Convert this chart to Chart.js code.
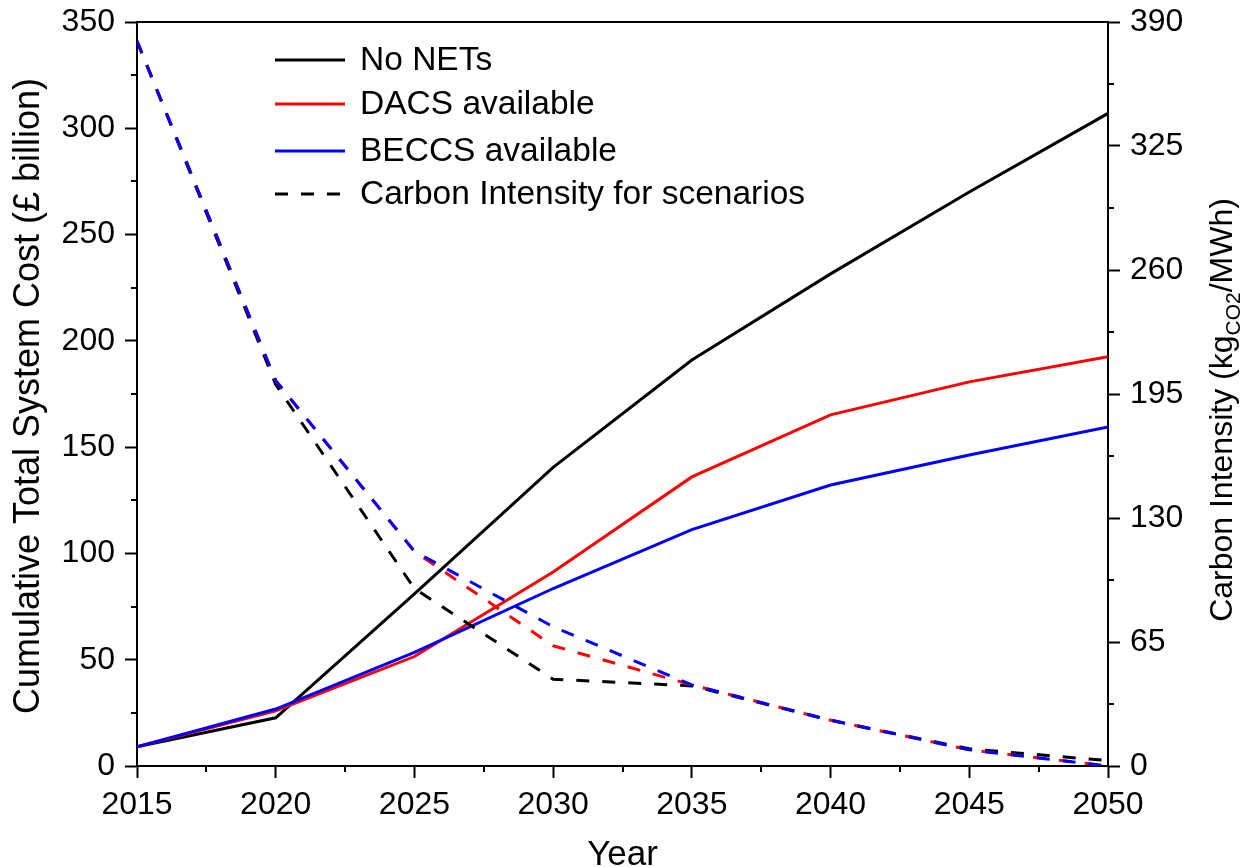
<!DOCTYPE html>
<html>
<head>
<meta charset="utf-8">
<script src="https://cdn.jsdelivr.net/npm/chart.js@4/dist/chart.umd.min.js"></script>
<style>
  html, body { margin: 0; padding: 0; background: #ffffff; }
  #c { display: block; }
</style>
</head>
<body>
<canvas id="c" width="1250" height="867"></canvas>
<script>
// Scenario years
const years = [2015, 2020, 2025, 2030, 2035, 2040, 2045, 2050];

// Cumulative total system cost (£ billion), left axis
const costNoNETs = [9.0, 22.7, 81.0, 140.5, 191.0, 231.5, 270.0, 307.0];
const costDACS   = [9.0, 26.0, 51.5, 91.3, 136.0, 165.2, 180.7, 192.5];
const costBECCS  = [9.0, 26.8, 53.5, 83.5, 111.2, 132.2, 146.3, 159.5];

// Carbon intensity (kgCO2/MWh), right axis
const ciNoNETs = [380, 200, 93.0, 45.5, 42.0, 24.0, 9.0, 2.8];
const ciDACS   = [380, 202, 112.5, 63.0, 42.5, 24.0, 8.5, 0.0];
const ciBECCS  = [380, 202, 112.5, 73.0, 42.5, 24.0, 8.5, 0.0];

// Axis ranges and tick steps
const xTicks = { min: 2015, max: 2050, step: 5 };
const leftTicks = { min: 0, max: 350, step: 50 };
const rightTicks = { min: 0, max: 390, step: 65 };

// Legend entries
const legendLabels = ['No NETs', 'DACS available', 'BECCS available', 'Carbon Intensity for scenarios'];
const legendColors = ['#000000', '#ff0000', '#0000ff', '#000000'];
const legendDashed = [false, false, false, true];

const FONT = '"Liberation Sans", Arial, Helvetica, sans-serif';
const DASH = [13, 13];

const pts = (ys) => years.map((x, i) => ({ x, y: ys[i] }));

function lineSet(label, data, color, axis, dashed, order) {
  return {
    label, data: pts(data), yAxisID: axis,
    borderColor: color, backgroundColor: color,
    borderWidth: 3, pointRadius: 0, tension: 0, fill: false,
    borderDash: dashed ? DASH : [], borderCapStyle: 'butt',
    borderJoinStyle: 'miter', order
  };
}

// Minor ticks, top frame line, axis titles and the in-plot legend
const decorations = {
  id: 'decorations',
  afterDraw(chart) {
    const ctx = chart.ctx;
    const a = chart.chartArea;
    const sx = chart.scales.x, sy = chart.scales.y, sy1 = chart.scales.y1;
    ctx.save();
    ctx.strokeStyle = '#000';
    ctx.lineWidth = 2;
    // top frame
    ctx.beginPath();
    ctx.moveTo(a.left - 1, a.top);
    ctx.lineTo(a.right + 1, a.top);
    ctx.stroke();
    // minor ticks
    ctx.beginPath();
    for (let v = xTicks.min + xTicks.step / 2; v < xTicks.max; v += xTicks.step) {
      const px = Math.round(sx.getPixelForValue(v));
      ctx.moveTo(px, a.bottom); ctx.lineTo(px, a.bottom + 6);
    }
    for (let v = leftTicks.min + leftTicks.step / 2; v < leftTicks.max; v += leftTicks.step) {
      const py = Math.round(sy.getPixelForValue(v));
      ctx.moveTo(a.left, py); ctx.lineTo(a.left - 6, py);
    }
    for (let v = rightTicks.min + rightTicks.step / 2; v < rightTicks.max; v += rightTicks.step) {
      const py = Math.round(sy1.getPixelForValue(v));
      ctx.moveTo(a.right, py); ctx.lineTo(a.right + 6, py);
    }
    ctx.stroke();

    // axis titles
    ctx.fillStyle = '#000';
    ctx.textBaseline = 'alphabetic';
    ctx.textAlign = 'center';
    ctx.font = '35px ' + FONT;
    ctx.fillText('Year', (a.left + a.right) / 2, 865);

    ctx.save();
    ctx.translate(39, 396);
    ctx.rotate(-Math.PI / 2);
    ctx.font = '36px ' + FONT;
    ctx.fillText('Cumulative Total System Cost (£ billion)', 0, 0);
    ctx.restore();

    // right title with subscript
    const p1 = 'Carbon Intensity (kg', sub = 'CO2', p2 = '/MWh)';
    ctx.save();
    ctx.translate(1232, 410);
    ctx.rotate(-Math.PI / 2);
    ctx.textAlign = 'left';
    ctx.font = '32px ' + FONT;
    const w1 = ctx.measureText(p1).width, w3 = ctx.measureText(p2).width;
    ctx.font = '21px ' + FONT;
    const w2 = ctx.measureText(sub).width;
    let x0 = -(w1 + w2 + w3) / 2;
    ctx.font = '32px ' + FONT;
    ctx.fillText(p1, x0, 0);
    ctx.font = '21px ' + FONT;
    ctx.fillText(sub, x0 + w1, 8);
    ctx.font = '32px ' + FONT;
    ctx.fillText(p2, x0 + w1 + w2, 0);
    ctx.restore();

    // legend
    const lx0 = 275, lx1 = 345, tx = 360;
    const ly = [60, 104, 151, 194];
    ctx.font = '33.5px ' + FONT;
    ctx.textAlign = 'left';
    ctx.textBaseline = 'middle';
    legendLabels.forEach((lab, i) => {
      ctx.strokeStyle = legendColors[i];
      ctx.lineWidth = 3;
      ctx.setLineDash(legendDashed[i] ? DASH : []);
      ctx.beginPath();
      ctx.moveTo(lx0, ly[i]); ctx.lineTo(lx1, ly[i]);
      ctx.stroke();
      ctx.setLineDash([]);
      ctx.fillStyle = '#000';
      ctx.fillText(lab, tx, ly[i] + 1);
    });
    ctx.restore();
  }
};

const axisCommon = () => ({
  grid: { drawOnChartArea: false, drawTicks: true, tickLength: 12, tickWidth: 2, tickColor: '#000' },
  border: { display: true, color: '#000', width: 2 }
});

// fixed axis boxes so the plot frame sits at a known place
const fixVertical = (w) => (s) => { s.width = w; s.paddingTop = 0; s.paddingBottom = 0; };

new Chart(document.getElementById('c'), {
  type: 'line',
  data: {
    datasets: [
      lineSet('Carbon Intensity BECCS', ciBECCS, '#0000ff', 'y1', true, 0),
      lineSet('Carbon Intensity DACS', ciDACS, '#ff0000', 'y1', true, 1),
      lineSet('Carbon Intensity No NETs', ciNoNETs, '#000000', 'y1', true, 2),
      lineSet('BECCS available', costBECCS, '#0000ff', 'y', false, 3),
      lineSet('DACS available', costDACS, '#ff0000', 'y', false, 4),
      lineSet('No NETs', costNoNETs, '#000000', 'y', false, 5)
    ]
  },
  options: {
    responsive: false,
    animation: false,
    devicePixelRatio: 1,
    layout: { padding: { top: 22, left: 0, right: 0, bottom: 0 } },
    plugins: { legend: { display: false }, tooltip: { enabled: false }, title: { display: false } },
    scales: {
      x: Object.assign(axisCommon(), {
        type: 'linear', position: 'bottom',
        min: xTicks.min, max: xTicks.max,
        afterFit: (s) => { s.height = 101; s.paddingLeft = 0; s.paddingRight = 0; },
        ticks: { color: '#000', font: { family: FONT, size: 32 }, padding: 8, stepSize: xTicks.step, maxRotation: 0, callback: (v) => String(v) }
      }),
      y: Object.assign(axisCommon(), {
        position: 'left', min: leftTicks.min, max: leftTicks.max,
        afterFit: fixVertical(137),
        ticks: { color: '#000', font: { family: FONT, size: 32 }, padding: 10, stepSize: leftTicks.step }
      }),
      y1: Object.assign(axisCommon(), {
        position: 'right', min: rightTicks.min, max: rightTicks.max,
        afterFit: fixVertical(142),
        ticks: { color: '#000', font: { family: FONT, size: 32 }, padding: 10, stepSize: rightTicks.step }
      })
    }
  },
  plugins: [decorations]
});
</script>
</body>
</html>
